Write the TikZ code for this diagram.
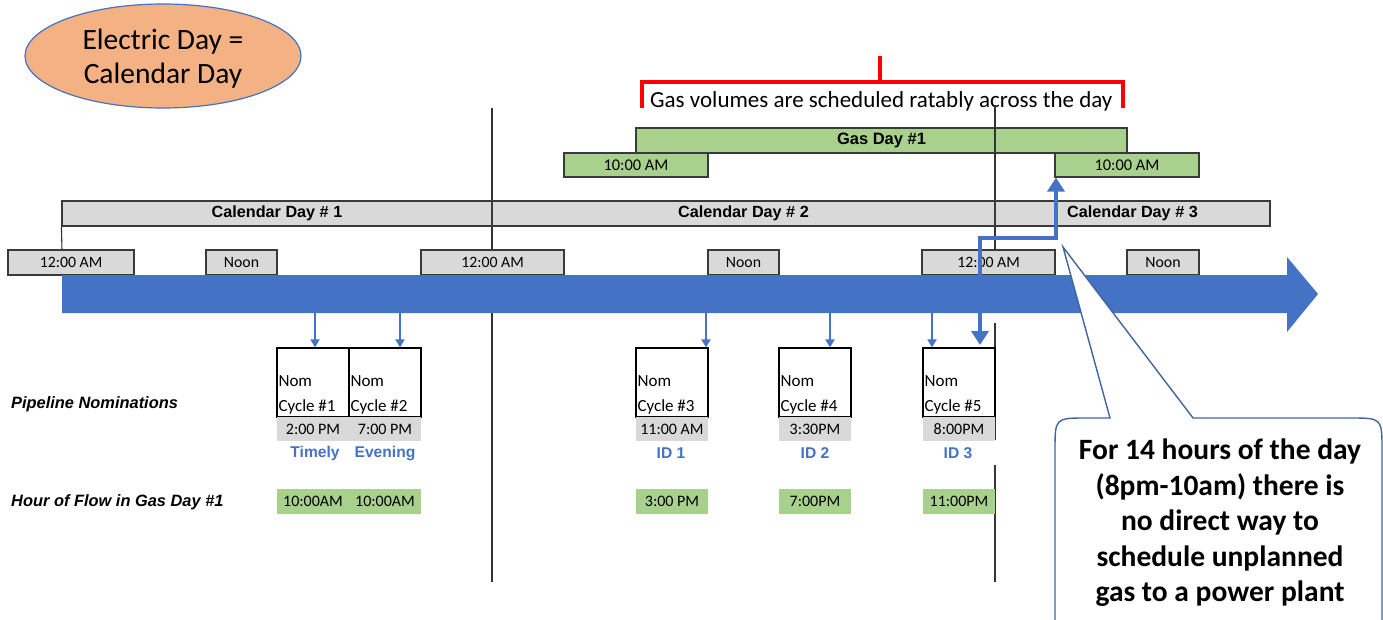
\documentclass[tikz,border=0pt]{standalone}
\usepackage{fontspec}
\setmainfont{Carlito}
\newfontfamily\arialf{Liberation Sans}
\usetikzlibrary{arrows.meta,shapes.geometric}
\definecolor{xblue}{HTML}{4472C4}
\definecolor{xgreen}{HTML}{A9D18E}
\definecolor{xgray}{HTML}{D9D9D9}
\definecolor{xorange}{HTML}{F4B183}
\definecolor{xedge}{HTML}{3A3A3A}
\definecolor{xcall}{HTML}{41659E}
\begin{document}
\begin{tikzpicture}[x=1pt,y=-1pt,
  tbox/.style={draw=xedge,line width=1.2pt,fill=xgray,inner sep=0pt,minimum height=25pt,font=\fontsize{15.8}{18}\selectfont},
  gbox/.style={draw=xedge,line width=1.2pt,fill=xgreen,inner sep=0pt,minimum height=24pt,font=\fontsize{16.4}{18}\selectfont},
  calbar/.style={draw=xedge,line width=1.2pt,fill=xgray,inner sep=0pt,minimum height=25pt,font=\arialf\bfseries\fontsize{16.2}{18}\selectfont},
  nombox/.style={draw=black,line width=1.3pt,fill=white,inner sep=0pt,minimum width=72pt,minimum height=69pt},
  nomtext/.style={anchor=south west,inner sep=0pt,align=left,font=\fontsize{17}{25}\selectfont},
  hrow/.style={fill=xgray,inner sep=0pt,minimum width=72pt,minimum height=24pt,font=\fontsize{16}{18}\selectfont},
  frow/.style={fill=xgreen,inner sep=0pt,minimum width=72pt,minimum height=25pt,font=\fontsize{16}{18}\selectfont},
  bluelab/.style={text=xblue,inner sep=0pt,font=\arialf\bfseries\fontsize{15.6}{18}\selectfont},
  sidelab/.style={anchor=west,inner sep=0pt,font=\arialf\bfseries\itshape\fontsize{16.4}{18}\selectfont},
  thinarr/.style={draw=xblue,line width=2.2pt,-{Triangle[length=8pt,width=9pt]}},
  thickarr/.style={draw=xblue,line width=4.5pt,{Triangle[length=14pt,width=17pt]}-{Triangle[length=14pt,width=17pt]}},
  divline/.style={draw=black!80,line width=1.1pt},
  redbr/.style={draw=red,line width=4pt}]
\useasboundingbox (0,0) rectangle (1383,620);

% ellipse
\node[ellipse,draw=xblue,line width=1.2pt,fill=xorange,minimum width=276pt,minimum height=104pt,inner sep=0pt] (elec) at (163,56) {};
\node[align=center,inner sep=0pt,font=\fontsize{29.5}{34}\selectfont] (electxt) at (163,59) {Electric Day =\\Calendar Day};

% red bracket and text
\coordinate (rbL) at (642,108);
\coordinate (rbR) at (1123,108);
\coordinate (rbM) at (880,56);
\draw[redbr] (rbL) -- (642,82) -- (1123,82) -- (rbR);
\draw[redbr] (rbM) -- (880,82);
\node[anchor=base west,inner sep=0pt,font=\fontsize{23}{26}\selectfont] (ratab) at (650,108) {Gas volumes are scheduled ratably across the day};

% gas day bar
\node[gbox,minimum width=491pt,minimum height=25pt,font=\arialf\bfseries\fontsize{16.5}{18}\selectfont] (gasday) at (881.5,140.5) {Gas Day \#1};

% vertical divider lines
\coordinate (vA1) at (492,108);
\coordinate (vA2) at (492,582);
\coordinate (vB1) at (995,105);
\coordinate (vB2) at (995,313);
\draw[divline] (vA1) -- (vA2);
\draw[divline] (vB1) -- (vB2);
\draw[divline] (995,323) -- (995,440);
\draw[divline] (995,465) -- (995,582);

% gas 10:00 AM boxes
\node[gbox,minimum width=144pt] (gasL) at (636,165) {10:00 AM};
\node[gbox,minimum width=144pt] (gasR) at (1127,165) {10:00 AM};

% calendar day bar
\node[calbar,minimum width=430pt] (cal1) at (277,213.5) {Calendar Day \# 1};
\node[calbar,minimum width=503pt] (cal2) at (743.5,213.5) {Calendar Day \# 2};
\node[calbar,minimum width=275pt] (cal3) at (1132.5,213.5) {Calendar Day \# 3};
\draw[divline] (cal1.south west) -- (62,250);

% time boxes
\node[tbox,minimum width=126pt] (t1) at (71,262.5) {12:00 AM};
\node[tbox,minimum width=71pt] (n1) at (241.5,262.5) {Noon};
\node[tbox,minimum width=143pt] (t2) at (492.5,262.5) {12:00 AM};
\node[tbox,minimum width=71pt] (n2) at (743.5,262.5) {Noon};
\node[tbox,minimum width=133pt] (t3) at (988.5,262.5) {12:00 AM};
\node[tbox,minimum width=72pt] (n3) at (1163,262.5) {Noon};

% big blue arrow
\fill[xblue] (62,275) -- (1287,275) -- (1287,257) -- (1318,294) -- (1287,332) -- (1287,313) -- (62,313) -- cycle;
\coordinate (timeline) at (62,294);

% nomination boxes
\node[nombox] (nom1) at (313,382.5) {};
\node[nombox] (nom2) at (385,382.5) {};
\node[nombox] (nom3) at (672,382.5) {};
\node[nombox] (nom4) at (815,382.5) {};
\node[nombox] (nom5) at (959,382.5) {};
\node[nomtext] (nt1) at ([xshift=2pt,yshift=3pt]nom1.south west) {Nom\\Cycle \#1};
\node[nomtext] (nt2) at ([xshift=2pt,yshift=3pt]nom2.south west) {Nom\\Cycle \#2};
\node[nomtext] (nt3) at ([xshift=2pt,yshift=3pt]nom3.south west) {Nom\\Cycle \#3};
\node[nomtext] (nt4) at ([xshift=2pt,yshift=3pt]nom4.south west) {Nom\\Cycle \#4};
\node[nomtext] (nt5) at ([xshift=2pt,yshift=3pt]nom5.south west) {Nom\\Cycle \#5};

% thin arrows from timeline to boxes
\coordinate (a1) at (315,313);
\coordinate (a2) at (400,313);
\coordinate (a3) at (706,313);
\coordinate (a4) at (830,313);
\coordinate (a5) at (932,313);
\draw[thinarr] (a1) -- (a1 |- nom1.north);
\draw[thinarr] (a2) -- (a2 |- nom2.north);
\draw[thinarr] (a3) -- (a3 |- nom3.north);
\draw[thinarr] (a4) -- (a4 |- nom4.north);
\draw[thinarr] (a5) -- (a5 |- nom5.north);

% hour rows
\node[hrow] (h1) at (313,429) {2:00 PM};
\node[hrow] (h2) at (385,429) {7:00 PM};
\node[hrow] (h3) at (672,429) {11:00 AM};
\node[hrow] (h4) at (815,429) {3:30PM};
\node[hrow] (h5) at (959,429) {8:00PM};

% blue labels
\node[bluelab] (b1) at (315,453) {Timely};
\node[bluelab] (b2) at (385,453) {Evening};
\node[bluelab] (b3) at (671,453) {ID 1};
\node[bluelab] (b4) at (815,453) {ID 2};
\node[bluelab] (b5) at (958,453) {ID 3};

% flow rows
\node[frow] (f1) at (313,501.5) {10:00AM};
\node[frow] (f2) at (385,501.5) {10:00AM};
\node[frow] (f3) at (672,501.5) {3:00 PM};
\node[frow] (f4) at (815,501.5) {7:00PM};
\node[frow] (f5) at (959,501.5) {11:00PM};

% side labels
\node[sidelab] (pipe) at (11,404) {Pipeline Nominations};
\node[sidelab] (flow) at (11,502) {Hour of Flow in Gas Day \#1};

% thick connector
\coordinate (cdown) at (980,345);
\coordinate (jn) at (1056,238);
\draw[thickarr] (cdown) |- (jn) -- (jn |- gasR.south);

% callout
\draw[draw=xcall,line width=1.4pt,fill=white] (1110,418) -- (1063,247) -- (1193,418) -- (1350,418) .. controls (1382,418) and (1382,418) .. (1382,450) -- (1382,660) -- (1055,660) -- (1055,450) .. controls (1055,418) and (1055,418) .. (1087,418) -- cycle;
\node[align=center,inner sep=0pt,font=\bfseries\fontsize{29.5}{35.5}\selectfont] (callout) at (1220,523) {For 14 hours of the day\\(8pm-10am) there is\\no direct way to\\schedule unplanned\\gas to a power plant};
\end{tikzpicture}
\end{document}
